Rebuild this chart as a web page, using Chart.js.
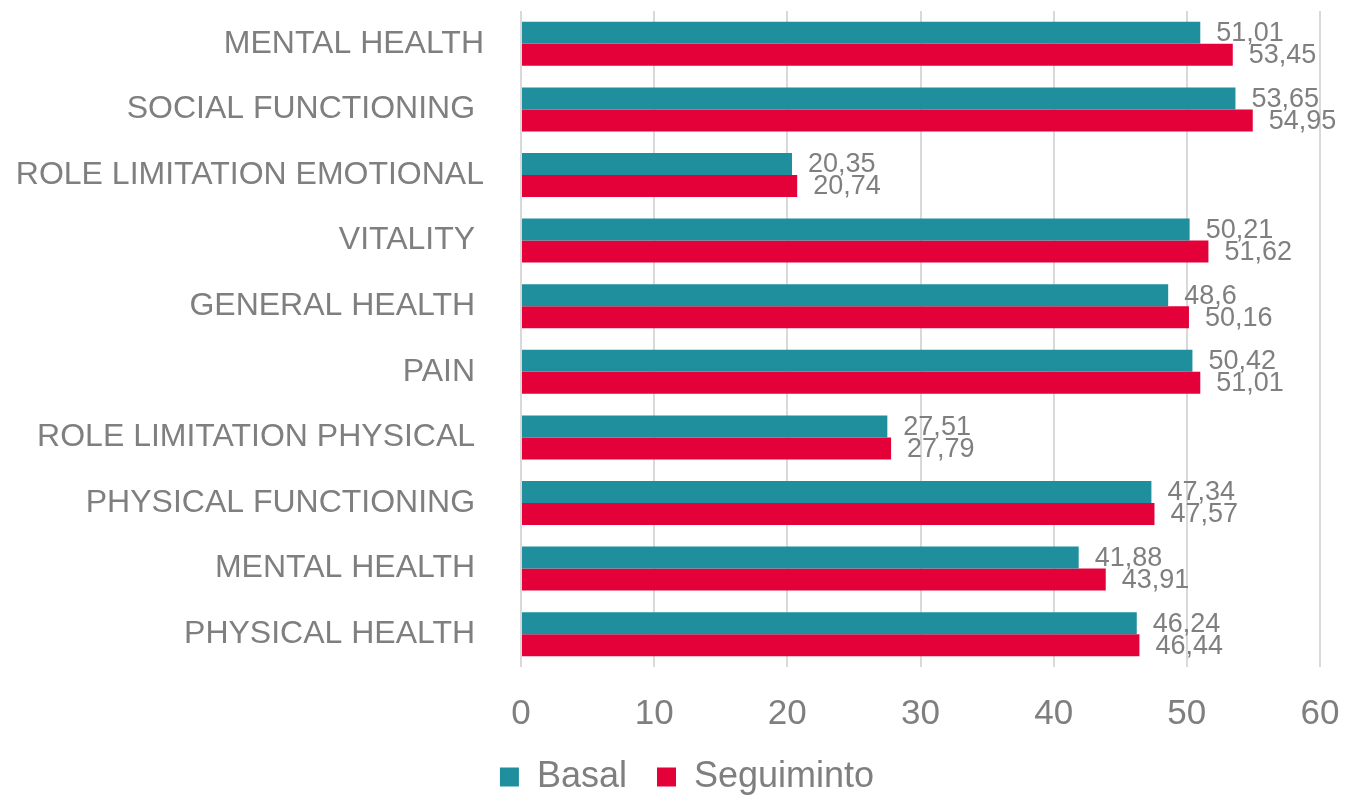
<!DOCTYPE html>
<html>
<head>
<meta charset="utf-8">
<script src="https://cdn.jsdelivr.net/npm/chart.js@4/dist/chart.umd.min.js"></script>
<style>
html,body{margin:0;padding:0;background:#fff;font-family:Arial,'Liberation Sans',sans-serif;}
#wrap{width:1346px;height:796px;position:relative;}
</style>
</head>
<body>
<div id="wrap"><canvas id="c" width="1346" height="796"></canvas></div>
<script>
const categories = ["MENTAL HEALTH","SOCIAL FUNCTIONING ","ROLE LIMITATION EMOTIONAL","VITALITY ","GENERAL HEALTH ","PAIN ","ROLE LIMITATION PHYSICAL ","PHYSICAL FUNCTIONING ","MENTAL HEALTH ","PHYSICAL HEALTH "];
const basal = [51.01,53.65,20.35,50.21,48.6,50.42,27.51,47.34,41.88,46.24];
const seguimiento = [53.45,54.95,20.74,51.62,50.16,51.01,27.79,47.57,43.91,46.44];
const xTicks = [0,10,20,30,40,50,60];

const FONT = "Arial, 'Liberation Sans', sans-serif";
const GRAY = "#7f7f7f";

const valueLabels = {
  id: 'valueLabels',
  afterDatasetsDraw(chart) {
    const ctx = chart.ctx;
    ctx.save();
    ctx.font = "27px " + FONT;
    ctx.fillStyle = GRAY;
    ctx.textAlign = 'left';
    ctx.textBaseline = 'middle';
    chart.data.datasets.forEach((ds, di) => {
      const meta = chart.getDatasetMeta(di);
      meta.data.forEach((el, i) => {
        const txt = String(ds.data[i]).replace('.', ',');
        ctx.fillText(txt, el.x + 16, el.y + 1);
      });
    });
    ctx.restore();
  }
};

const legendShift = {
  id: 'legendShift',
  afterLayout(chart) {
    if (chart.legend) { chart.legend.left += 27; chart.legend.right += 27; }
  }
};

new Chart(document.getElementById('c'), {
  type: 'bar',
  data: {
    labels: categories,
    datasets: [
      {label: 'Basal', data: basal, backgroundColor: '#1f8f9e', categoryPercentage: 0.67, barPercentage: 1.0},
      {label: 'Seguiminto', data: seguimiento, backgroundColor: '#e40038', categoryPercentage: 0.67, barPercentage: 1.0}
    ]
  },
  options: {
    indexAxis: 'y',
    responsive: false,
    animation: false,
    layout: {padding: {top: 11, right: 26, left: 0, bottom: -9}},
    scales: {
      x: {
        min: 0, max: 60,
        afterBuildTicks(s) { s.ticks = xTicks.map(v => ({value: v})); },
        afterFit(s) { s.height = 62; s.paddingLeft = 0; s.paddingRight = 0; },
        grid: {color: '#d9d9d9', lineWidth: 2, drawTicks: false},
        border: {display: false},
        ticks: {font: {family: FONT, size: 35}, color: GRAY, padding: 26}
      },
      y: {
        afterFit(s) { s.width = 521; s.paddingTop = 0; s.paddingBottom = 0; },
        grid: {display: false},
        border: {display: false},
        ticks: {font: {family: FONT, size: 32}, color: GRAY, padding: 29, autoSkip: false}
      }
    },
    plugins: {
      legend: {
        position: 'bottom',
        labels: {font: {family: FONT, size: 36}, color: GRAY, boxWidth: 19, boxHeight: 19, padding: 30}
      },
      tooltip: {enabled: false}
    }
  },
  plugins: [valueLabels, legendShift]
});
</script>
</body>
</html>
